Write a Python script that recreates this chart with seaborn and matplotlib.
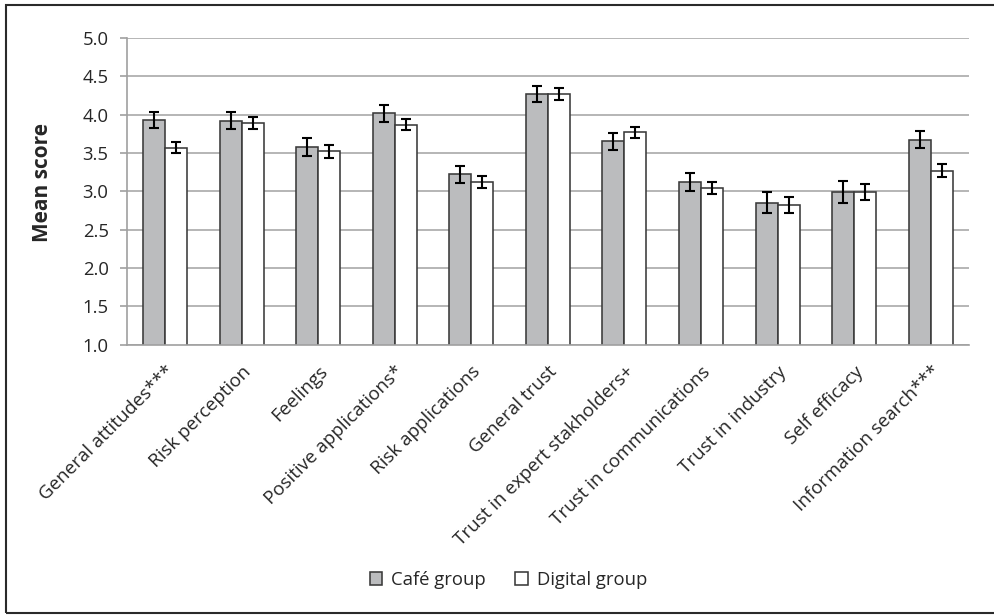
import numpy as np
import pandas as pd
import matplotlib
matplotlib.use('Agg')
import matplotlib.pyplot as plt
import seaborn as sns

# 항목 (x축)
measures = ['General attitudes***', 'Risk perception', 'Feelings', 'Positive applications*',
            'Risk applications', 'General trust', 'Trust in expert stakholders+',
            'Trust in communications', 'Trust in industry', 'Self efficacy',
            'Information search***']

groups = ['Café group', 'Digital group']

# 평균 점수
cafe_mean = [3.93, 3.92, 3.58, 4.02, 3.22, 4.27, 3.65, 3.12, 2.85, 2.99, 3.67]
digital_mean = [3.57, 3.89, 3.52, 3.87, 3.12, 4.27, 3.77, 3.04, 2.82, 2.99, 3.27]

# 오차 막대
cafe_err = [0.10, 0.11, 0.115, 0.11, 0.11, 0.11, 0.105, 0.115, 0.14, 0.14, 0.11]
digital_err = [0.07, 0.08, 0.08, 0.075, 0.08, 0.08, 0.075, 0.08, 0.105, 0.10, 0.085]

yticks = [1.0, 1.5, 2.0, 2.5, 3.0, 3.5, 4.0, 4.5, 5.0]

df = pd.DataFrame({
    'measure': measures * 2,
    'score': cafe_mean + digital_mean,
    'group': [groups[0]] * len(measures) + [groups[1]] * len(measures),
})
errs = {groups[0]: cafe_err, groups[1]: digital_err}

sns.set_style('white')
plt.rcParams['font.family'] = ['Open Sans', 'DejaVu Sans']

fig = plt.figure(figsize=(9.94, 6.15), dpi=100)
ax = fig.add_axes([0.1275, 0.4398, 0.8474, 0.4984])

ax.yaxis.grid(True, color='#A9A9A9', linewidth=1.2)
ax.set_axisbelow(True)

sns.barplot(data=df, x='measure', y='score', hue='group', order=measures, hue_order=groups,
            palette={groups[0]: '#BBBCBE', groups[1]: 'white'}, width=0.575,
            edgecolor='#3A3A3A', linewidth=1.15, errorbar=None, ax=ax)

# 오차 막대 그리기
for container, g in zip(ax.containers, groups):
    xs = [p.get_x() + p.get_width() / 2 for p in container.patches]
    ys = [p.get_height() for p in container.patches]
    ax.errorbar(xs, ys, yerr=errs[g], fmt='none', ecolor='black', elinewidth=1.5,
                capsize=3.35, capthick=1.5, zorder=5)

ax.set_ylim(1.0, 5.0)
ax.set_yticks(yticks)
ax.set_yticklabels([f'{t:.1f}' for t in yticks], fontsize=13.3)
ax.set_xlim(-0.5, len(measures) - 0.5)
ax.set_xticks(range(len(measures)))
ax.set_xticklabels(measures, rotation=45, ha='right', va='top', rotation_mode='anchor', fontsize=13.5)
ax.set_xticks(np.arange(-0.5, len(measures), 1), minor=True)
ax.tick_params(axis='x', which='major', length=0, pad=13)
ax.tick_params(axis='x', which='minor', length=5, color='#A0A0A0', width=1.2, direction='out')
ax.tick_params(axis='y', length=5, color='#A0A0A0', width=1.2, direction='out', left=True, pad=8)
ax.set_xlabel('')
ax.set_ylabel('Mean score', fontsize=15, fontweight='bold')
ax.yaxis.set_label_coords(-0.0875, 0.53)

for side in ['top', 'right']:
    ax.spines[side].set_visible(False)
for side in ['left', 'bottom']:
    ax.spines[side].set_color('#A0A0A0')
    ax.spines[side].set_linewidth(1.2)

handles, labels = ax.get_legend_handles_labels()
ax.legend_.remove()
fig.legend(handles, labels, loc='center', bbox_to_anchor=(0.5116, 0.057), ncol=2, frameon=False,
           fontsize=13.3, handlelength=0.65, handleheight=0.65, handletextpad=0.5, columnspacing=1.6)

# 차트 테두리
fig.add_artist(plt.Rectangle((0.006, 0.0033), 1.0, 0.9886, transform=fig.transFigure,
                             fill=False, edgecolor='#2A2A2A', linewidth=1.5))

fig.savefig('out.png', dpi=100)
